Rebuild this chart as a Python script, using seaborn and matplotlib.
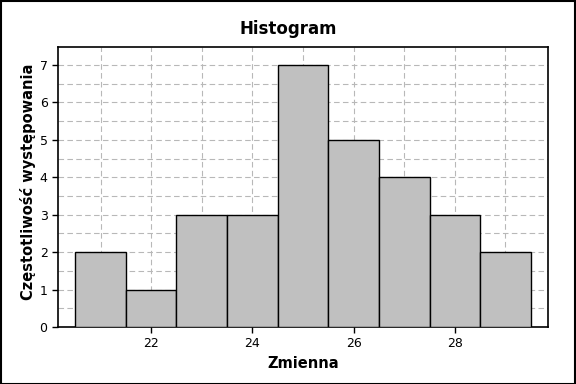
import numpy as np
import pandas as pd
import seaborn as sns
import matplotlib.pyplot as plt
from matplotlib.patches import Rectangle
from matplotlib.ticker import MultipleLocator

# Values (bin centres and counts)
centres = [21, 22, 23, 24, 25, 26, 27, 28, 29]
counts = [2, 1, 3, 3, 7, 5, 4, 3, 2]
df = pd.DataFrame({'Zmienna': np.repeat(centres, counts)})
edges = np.arange(20.5, 30.0, 1.0)

sns.set_style('white')
plt.rcParams['font.family'] = ['DejaVu Sans']
plt.rcParams['text.color'] = 'black'
plt.rcParams['axes.labelcolor'] = 'black'
plt.rcParams['xtick.color'] = 'black'
plt.rcParams['ytick.color'] = 'black'

fig = plt.figure(figsize=(5.76, 3.84), dpi=100)
ax = fig.add_axes([58 / 576, 57 / 384, 490 / 576, 280 / 384])

sns.histplot(data=df, x='Zmienna', bins=edges, color='#c0c0c0', alpha=1,
             edgecolor='black', linewidth=1.0, ax=ax, zorder=3)

ax.set_xlim(20.16, 29.84)
ax.set_ylim(0, 7.48)
ax.xaxis.set_major_locator(MultipleLocator(2))
ax.xaxis.set_minor_locator(MultipleLocator(1))
ax.yaxis.set_major_locator(MultipleLocator(1))
ax.yaxis.set_minor_locator(MultipleLocator(0.5))
ax.grid(True, which='both', linestyle=(0, (5, 3)), color='#b8b8b8', linewidth=0.8, zorder=0)
ax.set_axisbelow(True)
ax.tick_params(which='major', direction='out', length=4, width=1, color='black',
               labelcolor='black', labelsize=9, bottom=True, left=True)
ax.tick_params(which='minor', length=0)
for s in ax.spines.values():
    s.set_color('black')
    s.set_linewidth(1.2)

fig.suptitle('Histogram', fontsize=12, fontweight='bold', x=0.5, y=1 - 29 / 384, va='center')
ax.set_xlabel('Zmienna', fontsize=10.5, fontweight='bold', labelpad=4)
ax.set_ylabel('Częstotliwość występowania', fontsize=10.5, fontweight='bold', labelpad=4)
ax.yaxis.set_label_coords(-22 / 490, 0.52)

fig.patches.append(Rectangle((0.001, 0.001), 0.997, 0.997, transform=fig.transFigure,
                             fill=False, edgecolor='black', linewidth=1.5))

fig.savefig('out.png', dpi=100)
